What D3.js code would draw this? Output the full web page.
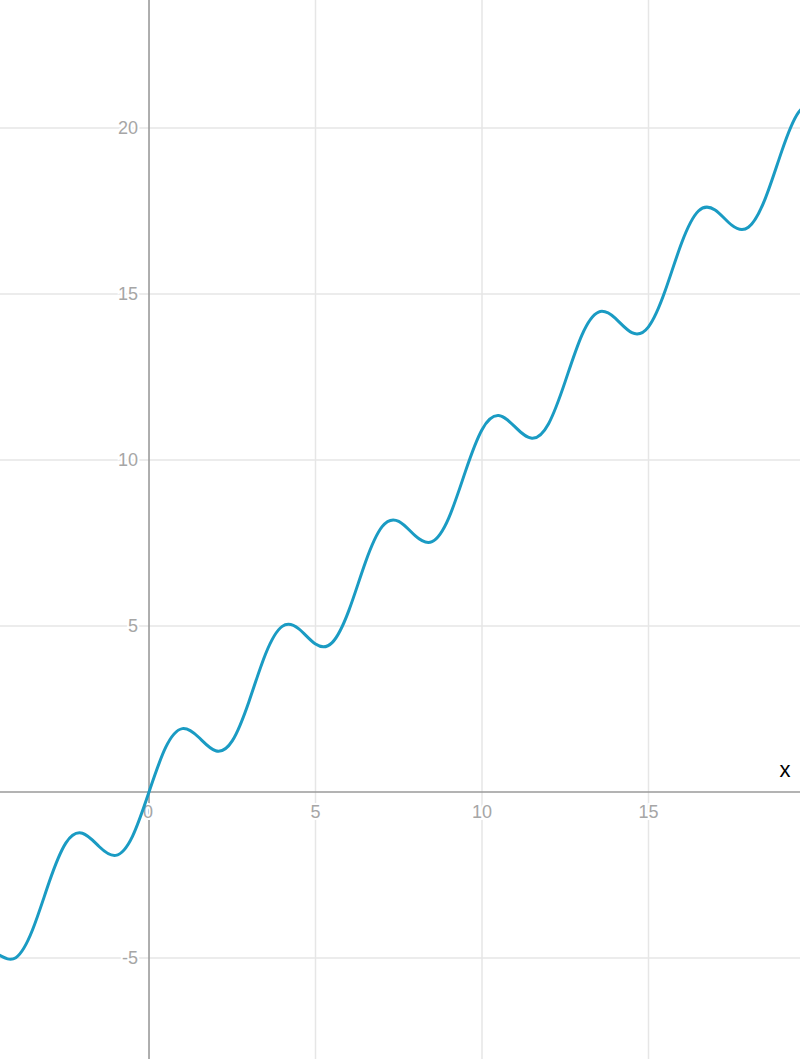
<!DOCTYPE html>
<html>
<head>
<meta charset="utf-8">
<script src="https://cdn.jsdelivr.net/npm/d3@7"></script>
<style>
  html, body { margin: 0; padding: 0; background: #fff; }
  svg { display: block; }
  .tick-label { font-family: "Liberation Sans", Arial, sans-serif; font-size: 18px; fill: #a6a6a6; }
</style>
</head>
<body>
<div id="chart"></div>
<script>
// curve samples
var xs = [-4.5, -4, -3.5, -3, -2.5, -2, -1.5, -1, -0.5, 0, 0.5, 1, 1.5, 2, 2.5, 3, 3.5, 4, 4.5,
          5, 5.5, 6, 6.5, 7, 7.5, 8, 8.5, 9, 9.5, 10, 10.5, 11, 11.5, 12, 12.5, 13, 13.5, 14,
          14.5, 15, 15.5, 16, 16.5, 17, 17.5, 18, 18.5, 19, 19.5, 20];
var ys = [-4.912, -4.989, -4.157, -2.721, -1.541, -1.243, -1.641, -1.909, -1.342, 0, 1.342, 1.909,
          1.641, 1.243, 1.541, 2.721, 4.157, 4.989, 4.912, 4.456, 4.5, 5.463, 6.92, 7.991, 8.15,
          7.712, 7.539, 8.249, 9.65, 10.913, 11.337, 10.991, 10.654, 11.094, 12.368, 13.763,
          14.456, 14.271, 13.836, 14.012, 15.096, 16.551, 17.5, 17.529, 17.072, 17.008, 17.857,
          19.296, 20.464, 20.745];

var xTicks = [5, 10, 15];
var yTicks = [-5, 5, 10, 15, 20];

var width = 800, height = 1059;

var x = d3.scaleLinear().domain([-4.475, 19.55]).range([0, width]);
var y = d3.scaleLinear().domain([-8.042, 23.855]).range([height, 0]);

var svg = d3.select("#chart").append("svg")
    .attr("width", width)
    .attr("height", height);

// grid
svg.append("g").selectAll("line")
    .data(xTicks)
    .enter().append("line")
    .attr("x1", function (d) { return x(d); })
    .attr("x2", function (d) { return x(d); })
    .attr("y1", 0).attr("y2", height)
    .attr("stroke", "#e6e6e6").attr("stroke-width", 1.5);

svg.append("g").selectAll("line")
    .data(yTicks)
    .enter().append("line")
    .attr("y1", function (d) { return y(d); })
    .attr("y2", function (d) { return y(d); })
    .attr("x1", 0).attr("x2", width)
    .attr("stroke", "#e6e6e6").attr("stroke-width", 1.5);

// axes
svg.append("line")
    .attr("x1", 0).attr("x2", width)
    .attr("y1", y(0)).attr("y2", y(0))
    .attr("stroke", "#9a9a9a").attr("stroke-width", 1.6);
svg.append("line")
    .attr("x1", x(0)).attr("x2", x(0))
    .attr("y1", 0).attr("y2", height)
    .attr("stroke", "#9a9a9a").attr("stroke-width", 1.6);

// tick labels with white halo
svg.append("g").selectAll("text")
    .data([0].concat(xTicks))
    .enter().append("text")
    .attr("class", "tick-label")
    .attr("x", function (d) { return x(d) - (d === 0 ? 1 : 0); })
    .attr("y", y(0) + 26)
    .attr("text-anchor", "middle")
    .attr("stroke", "#fff").attr("stroke-width", 4).attr("paint-order", "stroke")
    .text(function (d) { return d; });

svg.append("g").selectAll("text")
    .data(yTicks)
    .enter().append("text")
    .attr("class", "tick-label")
    .attr("x", x(0) - 11)
    .attr("y", function (d) { return y(d) + 6; })
    .attr("text-anchor", "end")
    .attr("stroke", "#fff").attr("stroke-width", 4).attr("paint-order", "stroke")
    .text(function (d) { return d < 0 ? "-" + Math.abs(d) : d; });

svg.append("text")
    .attr("x", 785).attr("y", 777)
    .attr("text-anchor", "middle")
    .style("font-family", "\"Liberation Sans\", Arial, sans-serif")
    .style("font-size", "22px")
    .attr("fill", "#000")
    .text("x");

// curve
var pts = d3.zip(xs, ys);
var line = d3.line()
    .x(function (d) { return x(d[0]); })
    .y(function (d) { return y(d[1]); })
    .curve(d3.curveNatural);

svg.append("path")
    .datum(pts)
    .attr("d", line)
    .attr("fill", "none")
    .attr("stroke", "#1a9bc3")
    .attr("stroke-width", 3);
</script>
</body>
</html>
